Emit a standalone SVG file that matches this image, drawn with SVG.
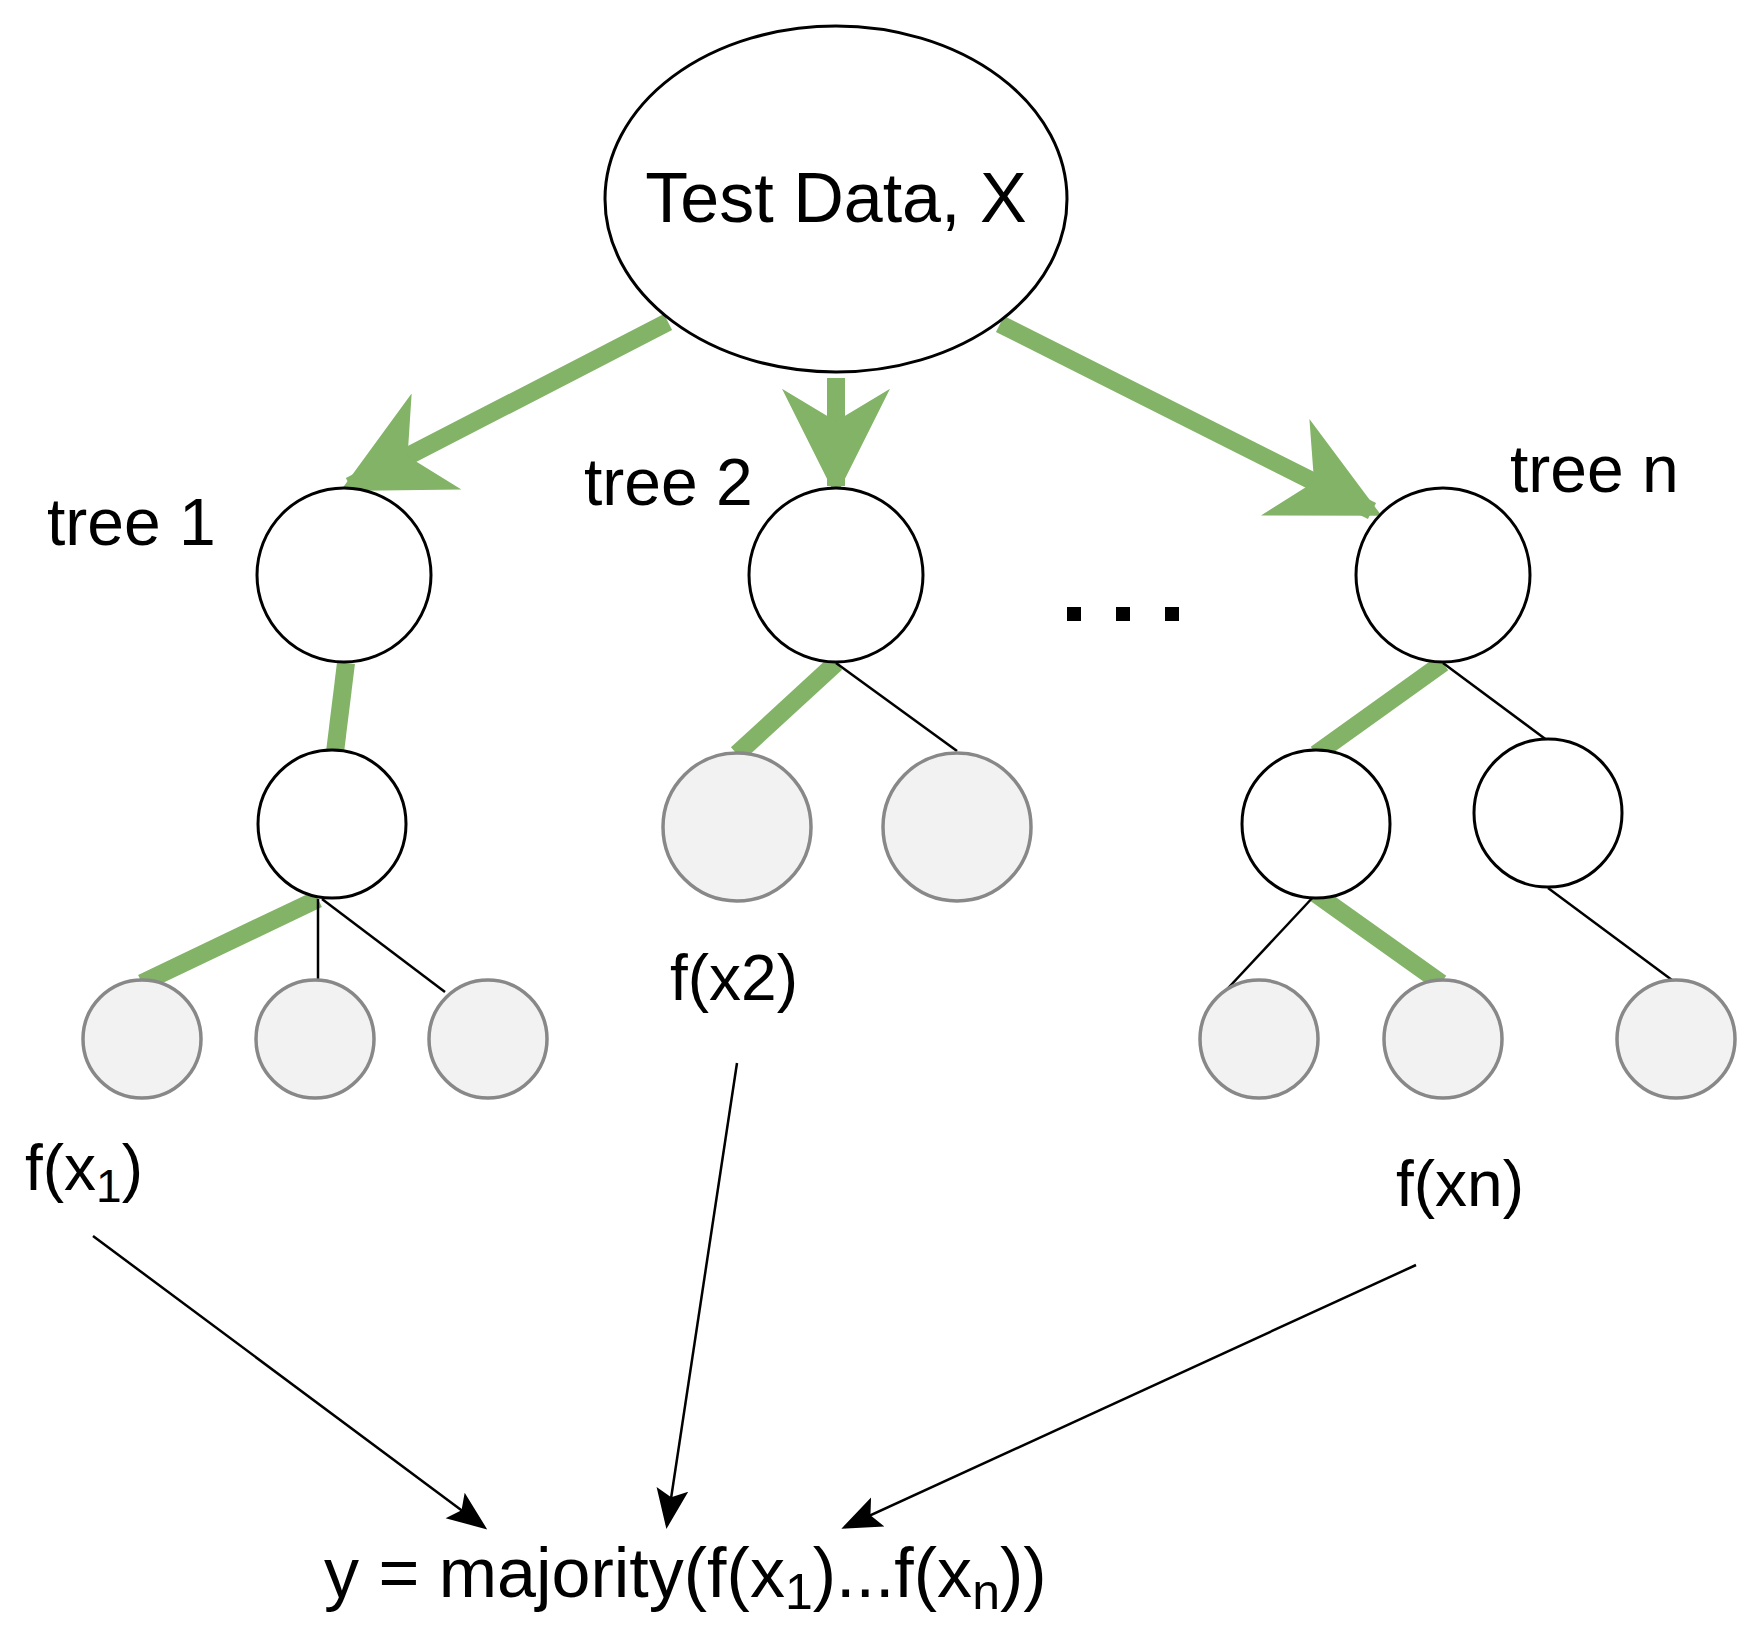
<svg xmlns="http://www.w3.org/2000/svg" width="1752" height="1638" viewBox="0 0 1752 1638">
<defs>
<marker id="g" viewBox="0 0 10 10" refX="9" refY="5" markerWidth="6" markerHeight="6" markerUnits="strokeWidth" orient="auto"><path d="M0,0 L10,5 L0,10 L3,5 z" fill="#82b366"/></marker>
<marker id="b" viewBox="0 0 10 10" refX="9" refY="5" markerWidth="16" markerHeight="16" markerUnits="strokeWidth" orient="auto"><path d="M0,1 L10,5 L0,9 L2,5 z" fill="#000"/></marker>
<style>
.n{fill:#fff;stroke:#000;stroke-width:3}
.l{fill:#f2f2f2;stroke:#888;stroke-width:3.5}
.ge{stroke:#82b366;stroke-width:18;fill:none}
.be{stroke:#000;stroke-width:2.5;fill:none}
text{font-family:"Liberation Sans",Arial,sans-serif;fill:#000}
</style>
</defs>
<rect width="1752" height="1638" fill="#fff"/>
<g id="connectors">
<line class="ge" x1="668" y1="322" x2="350" y2="486" marker-end="url(#g)"/>
<line class="ge" x1="836" y1="378" x2="836" y2="486" marker-end="url(#g)"/>
<line class="ge" x1="1000" y1="324" x2="1372" y2="511" marker-end="url(#g)"/>
<line class="ge" x1="346" y1="663" x2="335" y2="752"/>
<line class="ge" x1="318" y1="899" x2="142" y2="983"/>
<line class="be" x1="318" y1="899" x2="318" y2="982"/>
<line class="be" x1="322" y1="899" x2="445" y2="992"/>
<line class="ge" x1="836" y1="663" x2="737" y2="754"/>
<line class="be" x1="836" y1="663" x2="957" y2="751"/>
<line class="ge" x1="1443" y1="663" x2="1316" y2="754"/>
<line class="be" x1="1443" y1="663" x2="1548" y2="741"/>
<line class="ge" x1="1316" y1="894" x2="1441" y2="983"/>
<line class="be" x1="1316" y1="894" x2="1217" y2="1000"/>
<line class="be" x1="1548" y1="888" x2="1676" y2="983"/>
<line class="be" x1="93" y1="1236" x2="484" y2="1527" marker-end="url(#b)"/>
<line class="be" x1="737" y1="1063" x2="667" y2="1525" marker-end="url(#b)"/>
<line class="be" x1="1416" y1="1265" x2="845" y2="1527" marker-end="url(#b)"/>
</g>
<g id="root"><ellipse class="n" cx="836" cy="199" rx="231" ry="173"/><text x="836" y="222" font-size="70" text-anchor="middle">Test Data, X</text></g>
<g id="t1"><circle class="n" cx="344" cy="575" r="87"/><text x="47" y="545" font-size="66">tree 1</text></g>
<g id="t1m"><circle class="n" cx="332" cy="824" r="74"/></g>
<g id="t1l1"><circle class="l" cx="142" cy="1039" r="59"/></g>
<g id="t1l2"><circle class="l" cx="315" cy="1039" r="59"/></g>
<g id="t1l3"><circle class="l" cx="488" cy="1039" r="59"/></g>
<g id="t2"><circle class="n" cx="836" cy="575" r="87"/><text x="584" y="505" font-size="66">tree 2</text></g>
<g id="t2l1"><circle class="l" cx="737" cy="827" r="74"/></g>
<g id="t2l2"><circle class="l" cx="957" cy="827" r="74"/></g>
<g id="dots"><rect x="1067" y="607" width="14" height="14"/><rect x="1116" y="607" width="14" height="14"/><rect x="1165" y="607" width="14" height="14"/></g>
<g id="tn"><circle class="n" cx="1443" cy="575" r="87"/><text x="1510" y="492" font-size="66">tree n</text></g>
<g id="tnm1"><circle class="n" cx="1316" cy="824" r="74"/></g>
<g id="tnm2"><circle class="n" cx="1548" cy="813" r="74"/></g>
<g id="tnl1"><circle class="l" cx="1259" cy="1039" r="59"/></g>
<g id="tnl2"><circle class="l" cx="1443" cy="1039" r="59"/></g>
<g id="tnl3"><circle class="l" cx="1676" cy="1039" r="59"/></g>
<g id="f1"><text x="25" y="1190" font-size="64">f(x<tspan font-size="46" dy="12">1</tspan><tspan dy="-12">)</tspan></text></g>
<g id="f2"><text x="670" y="1000" font-size="64">f(x2)</text></g>
<g id="fn"><text x="1396" y="1206" font-size="64">f(xn)</text></g>
<g id="result"><text x="324" y="1597" font-size="70">y = majority(f(x<tspan font-size="50" dy="12">1</tspan><tspan dy="-12">)...f(x</tspan><tspan font-size="50" dy="12">n</tspan><tspan dy="-12">))</tspan></text></g>
</svg>
